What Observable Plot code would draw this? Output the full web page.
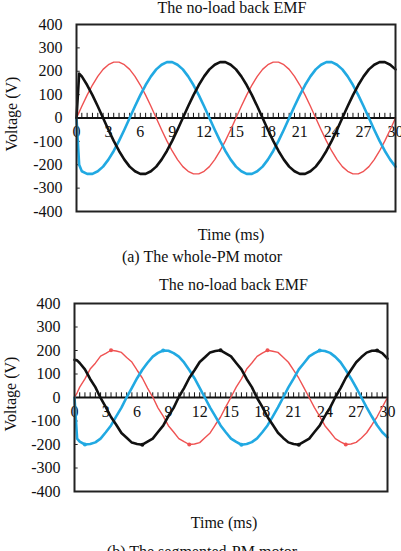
<!DOCTYPE html>
<html>
<head>
<meta charset="utf-8">
<script src="https://cdn.jsdelivr.net/npm/d3@7"></script>
<script src="https://cdn.jsdelivr.net/npm/@observablehq/plot@0.6"></script>
<style>
  body { margin: 0; background: #fff; }
  #page {
    position: relative; width: 401px; height: 551px; overflow: hidden; background: #fff;
    font-family: "Liberation Serif", "Times New Roman", serif; color: #111;
  }
  .lbl {
    position: absolute; font-size: 16px; line-height: 16px; white-space: nowrap;
    transform: translate(-50%, -50%);
  }
  .lbl.rot { transform: translate(-50%, -50%) rotate(-90deg); }
  #page svg { position: absolute; left: 0; }
</style>
</head>
<body>
<div id="page"></div>
<script>
// Sample times (ms)
const time = [0, 0.25, 0.5, 1, 1.5, 2, 2.5, 3, 3.5, 4, 4.5, 5, 5.5, 6, 6.5, 7, 7.5, 8, 8.5, 9, 9.5,
  10, 10.5, 11, 11.5, 12, 12.5, 13, 13.5, 14, 14.5, 15, 15.5, 16, 16.5, 17, 17.5, 18, 18.5, 19, 19.5,
  20, 20.5, 21, 21.5, 22, 22.5, 23, 23.5, 24, 24.5, 25, 25.5, 26, 26.5, 27, 27.5, 28, 28.5, 29, 29.5, 30];

// (a) whole-PM motor: phase voltages (V)
const redA = [0, 25, 50, 98, 141, 178, 208, 228, 239, 239, 228, 208, 178, 141, 98, 50, 0, -50, -98, -141, -178,
  -208, -228, -239, -239, -228, -208, -178, -141, -98, -50, 0, 50, 98, 141, 178, 208, 228, 239, 239, 228,
  208, 178, 141, 98, 50, 0, -50, -98, -141, -178, -208, -228, -239, -239, -228, -208, -178, -141, -98, -50, 0];
const blueA = [0, -200, -228, -239, -239, -228, -208, -178, -141, -98, -50, 0, 50, 98, 141, 178, 208, 228, 239,
  239, 228, 208, 178, 141, 98, 50, 0, -50, -98, -141, -178, -208, -228, -239, -239, -228, -208, -178, -141,
  -98, -50, 0, 50, 98, 141, 178, 208, 228, 239, 239, 228, 208, 178, 141, 98, 50, 0, -50, -98, -141, -178, -208];
const blackA = [0, 190, 178, 141, 98, 50, 0, -50, -98, -141, -178, -208, -228, -239, -239, -228, -208, -178, -141,
  -98, -50, 0, 50, 98, 141, 178, 208, 228, 239, 239, 228, 208, 178, 141, 98, 50, 0, -50, -98, -141, -178,
  -208, -228, -239, -239, -228, -208, -178, -141, -98, -50, 0, 50, 98, 141, 178, 208, 228, 239, 239, 228, 208];

// (b) segmented-PM motor: phase voltages (V)
const redB = [0, 20, 44, 79, 121, 146, 176, 188, 201, 198, 192, 170, 151, 116, 83, 40, 2, -44, -79, -120, -147,
  -175, -188, -200, -198, -192, -171, -151, -116, -83, -40, 1, 44, 79, 121, 147, 175, 189, 201, 197, 192,
  171, 150, 116, 82, 41, -1, -43, -80, -120, -147, -175, -189, -200, -198, -191, -172, -150, -117, -82, -41, 0];
const blueB = [0, -175, -188, -200, -198, -191, -175, -148, -119, -80, -43, 1, 41, 82, 118, 148, 174, 190, 200,
  199, 189, 174, 149, 117, 82, 41, -1, -43, -80, -119, -148, -175, -189, -201, -198, -190, -174, -148, -119,
  -81, -42, 0, 43, 80, 120, 147, 175, 189, 200, 198, 190, 173, 150, 117, 81, 42, 0, -42, -81, -118, -148, -170];
const blackB = [160, 158, 147, 120, 79, 44, -2, -41, -83, -116, -151, -171, -192, -198, -201, -188, -175, -147,
  -120, -79, -44, 2, 40, 83, 116, 151, 171, 192, 198, 201, 188, 175, 147, 120, 79, 44, -2, -40, -83, -116,
  -150, -172, -191, -198, -201, -188, -175, -147, -120, -79, -43, 1, 40, 83, 117, 150, 172, 191, 199, 200, 189, 165];

// Axis ticks
const yTicks = [-400, -300, -200, -100, 0, 100, 200, 300, 400];
const xLabels = [0, 3, 6, 9, 12, 15, 18, 21, 24, 27, 30];
const xMinor = d3.range(0, 30.001, 0.5);

const serif = "Liberation Serif, Times New Roman, serif";

// Sample indices where a waveform reaches its crest (|v| >= 200)
const crests = (vals) => time.map((t, i) => i).filter((i) => Math.abs(vals[i]) >= 200);

function emfChart({red, blue, black, marginLeft, marginRight, height, markCrests}) {
  const series = [
    {vals: red, color: "#ef5252", width: 1.4},
    {vals: blue, color: "#21a9e2", width: 2.6},
    {vals: black, color: "#111", width: 2.6}
  ];
  return Plot.plot({
    width: 401,
    height,
    marginTop: 24,
    marginBottom: 5,
    marginLeft,
    marginRight,
    x: {domain: [0, 30], axis: null},
    y: {domain: [-400, 400]},
    style: {fontFamily: serif, fontSize: "16px", color: "#111", background: "transparent", overflow: "visible"},
    marks: [
      Plot.axisY(yTicks, {tickSize: 0, tickPadding: 14, tickFormat: (d) => `${d}`, fontSize: 16, label: null}),
      Plot.ruleY(yTicks, {y: (d) => d, x1: 0, x2: 0.35, stroke: "#222", strokeWidth: 1}),
      Plot.ruleY([0], {stroke: "#111", strokeWidth: 2}),
      Plot.ruleX(xMinor, {x: (d) => d, y1: 0, y2: 20, stroke: "#111", strokeWidth: 1}),
      Plot.text(xLabels, {x: (d) => d, y: 0, dy: 14, text: (d) => `${d}`, fontSize: 16, fill: "#111"}),
      ...series.map((s) => Plot.line(time, {x: (d) => d, y: s.vals, stroke: s.color, strokeWidth: s.width})),
      ...(markCrests
        ? series.map((s) => Plot.dot(crests(s.vals), {x: (i) => time[i], y: (i) => s.vals[i], r: 2, fill: s.color, stroke: "none"}))
        : []),
      Plot.frame({stroke: "#222", strokeWidth: 2})
    ]
  });
}

const page = document.getElementById("page");

const svgA = emfChart({red: redA, blue: blueA, black: blackA, marginLeft: 76, marginRight: 6, height: 216, markCrests: false});
svgA.style.top = "0px";
page.appendChild(svgA);

const svgB = emfChart({red: redB, blue: blueB, black: blackB, marginLeft: 74, marginRight: 14, height: 217, markCrests: true});
svgB.style.top = "279px";
page.appendChild(svgB);

function label(text, x, y, rotated = false) {
  const el = document.createElement("div");
  el.className = rotated ? "lbl rot" : "lbl";
  el.textContent = text;
  el.style.left = x + "px";
  el.style.top = y + "px";
  page.appendChild(el);
}

label("The no-load back EMF", 232, 8.2);
label("Voltage (V)", 12.4, 113.5, true);
label("Time (ms)", 231, 235.2);
label("(a) The whole-PM motor", 202, 256.9);

label("The no-load back EMF", 233.5, 285.3);
label("Voltage (V)", 11.4, 394, true);
label("Time (ms)", 224, 522.6);
label("(b) The segmented-PM motor", 202, 551.6);
</script>
</body>
</html>
